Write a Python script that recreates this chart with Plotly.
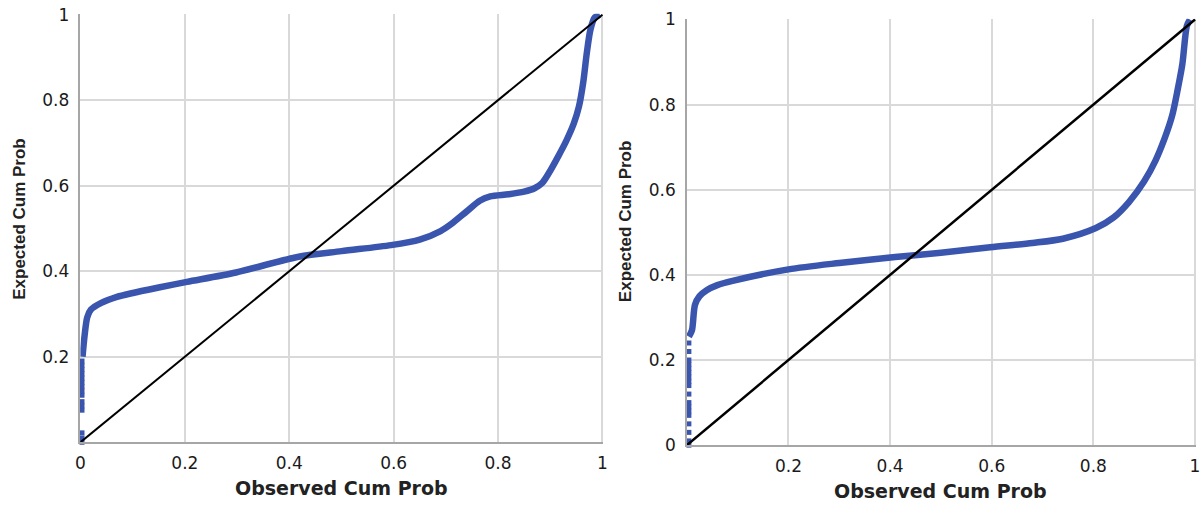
import plotly.graph_objects as go

# Normal P-P plots: observed vs expected cumulative probability, two variables
left_obs = [0.004, 0.008, 0.013, 0.02, 0.04, 0.07, 0.096, 0.15, 0.204, 0.298, 0.418, 0.5,
            0.595, 0.65, 0.69, 0.71, 0.74, 0.765, 0.785, 0.82, 0.85, 0.87, 0.885, 0.9,
            0.915, 0.93, 0.945, 0.955, 0.963, 0.97, 0.977, 0.985, 0.995]
left_exp = [0.2, 0.25, 0.292, 0.31, 0.326, 0.34, 0.348, 0.362, 0.375, 0.397, 0.434, 0.447,
            0.461, 0.474, 0.494, 0.51, 0.54, 0.565, 0.575, 0.58, 0.586, 0.594, 0.607, 0.635,
            0.668, 0.703, 0.745, 0.785, 0.84, 0.91, 0.965, 0.993, 1.0]
left_tail_exp = [0.0, 0.01, 0.022, 0.075, 0.085, 0.095, 0.11, 0.12, 0.13, 0.14, 0.15,
                 0.16, 0.17, 0.18, 0.19]

right_obs = [0.004, 0.01, 0.016, 0.025, 0.039, 0.06, 0.09, 0.2, 0.3, 0.41, 0.5, 0.597,
             0.68, 0.74, 0.805, 0.84, 0.87, 0.9, 0.922, 0.94, 0.955, 0.965, 0.975, 0.984, 0.99]
right_exp = [0.255, 0.27, 0.33, 0.35, 0.364, 0.376, 0.386, 0.413, 0.428, 0.442, 0.452, 0.465,
             0.475, 0.485, 0.51, 0.535, 0.571, 0.62, 0.668, 0.72, 0.774, 0.83, 0.894, 0.985, 1.0]
right_tail_exp = [0.0, 0.01, 0.03, 0.05, 0.07, 0.08, 0.09, 0.1, 0.12, 0.14, 0.15, 0.16,
                  0.17, 0.18, 0.19, 0.2, 0.22, 0.24]

ref_line = [0, 1]
tick_vals = [0, 0.2, 0.4, 0.6, 0.8, 1]
tick_text = ["0", "0.2", "0.4", "0.6", "0.8", "1"]

BLUE = "#3a55ae"
GRID = "#d9d9d9"
AXIS = "#a6a6a6"

fig = go.Figure()

# left panel
fig.add_trace(go.Scatter(x=[0.003] * len(left_tail_exp), y=left_tail_exp, mode="markers",
                         marker=dict(color=BLUE, size=5, symbol="square"),
                         xaxis="x", yaxis="y", cliponaxis=False))
fig.add_trace(go.Scatter(x=left_obs, y=left_exp, mode="lines",
                         line=dict(color=BLUE, width=6.5, shape="spline", smoothing=0.8),
                         xaxis="x", yaxis="y"))
fig.add_trace(go.Scatter(x=ref_line, y=ref_line, mode="lines",
                         line=dict(color="black", width=2), xaxis="x", yaxis="y"))

# right panel
fig.add_trace(go.Scatter(x=[0.004] * len(right_tail_exp), y=right_tail_exp, mode="markers",
                         marker=dict(color=BLUE, size=5, symbol="square"),
                         xaxis="x2", yaxis="y2", cliponaxis=False))
fig.add_trace(go.Scatter(x=right_obs, y=right_exp, mode="lines",
                         line=dict(color=BLUE, width=6.5, shape="spline", smoothing=0.8),
                         xaxis="x2", yaxis="y2"))
fig.add_trace(go.Scatter(x=ref_line, y=ref_line, mode="lines",
                         line=dict(color="black", width=2.5), xaxis="x2", yaxis="y2"))

W, H = 1203, 511
tick_font = dict(family="DejaVu Sans", size=17, color="#1a1a1a")


def xaxis(left, right, vals, texts):
    return dict(domain=[left / W, right / W], range=[0, 1.002], showgrid=True, gridcolor=GRID,
                gridwidth=1.5, zeroline=False, showline=True, linecolor=AXIS, linewidth=1.5,
                mirror=False, tickvals=vals, ticktext=texts, ticks="outside", ticklen=5,
                tickcolor="rgba(0,0,0,0)", tickfont=tick_font, fixedrange=True)


def yaxis(top, bottom, vals, texts, anchor):
    return dict(domain=[1 - bottom / H, 1 - top / H], range=[0, 1.002], showgrid=True,
                gridcolor=GRID, gridwidth=1.5, zeroline=False, showline=True, linecolor=AXIS,
                linewidth=1.5, tickvals=vals, ticktext=texts, ticks="outside", ticklen=6,
                tickcolor="rgba(0,0,0,0)", tickfont=tick_font, anchor=anchor, fixedrange=True)


fig.update_layout(
    width=W, height=H, margin=dict(l=0, r=0, t=0, b=0),
    paper_bgcolor="white", plot_bgcolor="white", showlegend=False,
    xaxis=dict(xaxis(76, 603, tick_vals, tick_text), anchor="y"),
    yaxis=yaxis(5, 450, tick_vals[1:], tick_text[1:], "x"),
    xaxis2=dict(xaxis(687, 1200, tick_vals[1:], tick_text[1:]), anchor="y2"),
    yaxis2=yaxis(10, 453, tick_vals, tick_text, "x2"),
)

title_x = dict(family="DejaVu Sans", size=19, color="#222222")
title_y = dict(family="Liberation Sans", size=17, color="#222222")
for cx, cy in ((339, 498), (943, 501)):
    fig.add_annotation(text="<b>Observed Cum Prob</b>", x=cx / W, y=1 - cy / H,
                       xref="paper", yref="paper", showarrow=False, font=title_x,
                       xanchor="center", yanchor="middle")
for cx, cy in ((15, 218), (625, 220)):
    fig.add_annotation(text="<b>Expected Cum Prob</b>", x=cx / W, y=1 - cy / H,
                       xref="paper", yref="paper", showarrow=False, font=title_y,
                       textangle=-90, xanchor="center", yanchor="middle")

fig.write_html("out.html")
